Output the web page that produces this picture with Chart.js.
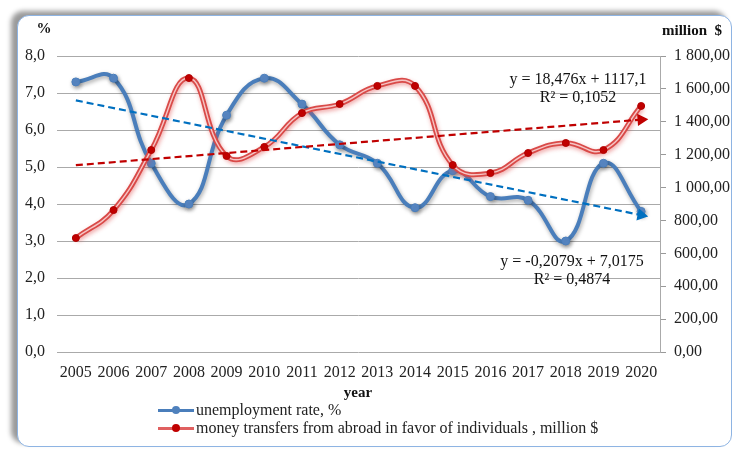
<!DOCTYPE html>
<html>
<head>
<meta charset="utf-8">
<script src="https://cdn.jsdelivr.net/npm/chart.js@4/dist/chart.umd.min.js"></script>
<style>
  body { margin:0; background:#fff; font-family:'Liberation Serif', serif; }
  #frame { position:absolute; left:17px; top:15px; width:713px; height:430px;
    border:1.5px solid #8eb4e3; border-radius:12px; background:#fff;
    box-shadow:-6px -4px 5px rgba(0,0,0,0.4); }
  #chart { position:absolute; left:0; top:0; }
  .legend { position:absolute; left:158px; top:401px; font-size:16px; color:#222; line-height:18px; }
  .legend .row { display:flex; align-items:center; white-space:pre; }
  .legend .sample { position:relative; width:36px; height:10px; margin-right:2px; }
  .legend .sample .ln { position:absolute; left:0; right:0; top:4px; height:3px; }
  .legend .sample .dot { position:absolute; left:14px; top:1px; width:8px; height:8px; border-radius:50%; }
</style>
</head>
<body>
<div id="frame"></div>
<canvas id="chart" width="734" height="450"></canvas>
<div class="legend">
  <div class="row"><div class="sample"><div class="ln" style="background:#4a7ebb"></div><div class="dot" style="background:#4f81bd"></div></div>unemployment rate, %</div>
  <div class="row"><div class="sample"><div class="ln" style="background:#e06060"></div><div class="dot" style="background:#c00000"></div></div>money transfers from abroad in favor of individuals , million $</div>
</div>
<script>
// -- DATA
const years = ['2005','2006','2007','2008','2009','2010','2011','2012','2013','2014','2015','2016','2017','2018','2019','2020'];
const unemployment = [7.3, 7.4, 5.1, 4.0, 6.4, 7.4, 6.7, 5.6, 5.1, 3.9, 4.9, 4.2, 4.1, 3.0, 5.1, 3.8];
const transfers = [693, 863, 1228, 1666, 1192, 1247, 1453, 1508, 1618, 1618, 1137, 1088, 1210, 1271, 1228, 1496];
// trend lines: start and end values
const unempTrend = [6.8, null, null, null, null, null, null, null, null, null, null, null, null, null, null, 3.7];
const transfersTrend = [1136, null, null, null, null, null, null, null, null, null, null, null, null, null, null, 1413];
const unempEq = ['y = -0,2079x + 7,0175', 'R² = 0,4874'];
const transfersEq = ['y = 18,476x + 1117,1', 'R² = 0,1052'];

const FONT = 'Liberation Serif';
const arrowAt = (arr, r) => arr.map((v, i) => (i === arr.length - 1 ? r : 0));

function fmtRight(v) {
  const s = v.toFixed(2).replace('.', ',');
  const [ip, dp] = s.split(',');
  return ip.replace(/\B(?=(\d{3})+(?!\d))/g, ' ') + ',' + dp;
}

// -- SHADOWS for the main lines
const shadowPlugin = {
  id: 'shadow',
  beforeDatasetDraw(chart, args) {
    const ds = chart.data.datasets[args.index];
    if (!ds.shadow) return;
    const ctx = chart.ctx;
    ctx.save();
    ctx.shadowColor = ds.shadow;
    ctx.shadowBlur = 4;
    ctx.shadowOffsetX = 1;
    ctx.shadowOffsetY = 2;
  },
  afterDatasetDraw(chart, args) {
    const ds = chart.data.datasets[args.index];
    if (ds.shadow) chart.ctx.restore();
  }
};

// -- TEXT: axis titles + trend equations
const textPlugin = {
  id: 'texts',
  afterDraw(chart) {
    const ctx = chart.ctx;
    ctx.save();
    ctx.fillStyle = '#111';
    ctx.textBaseline = 'middle';
    ctx.font = 'bold 15px "' + FONT + '"';
    ctx.textAlign = 'center';
    ctx.fillText('%', 44, 29);
    ctx.fillText('million  $', 692, 31);
    ctx.fillText('year', 358, 393);
    ctx.font = '16px "' + FONT + '"';
    ctx.fillText(transfersEq[0], 578, 80);
    ctx.fillText(transfersEq[1], 578, 98);
    ctx.fillText(unempEq[0], 572, 262);
    ctx.fillText(unempEq[1], 572, 280);
    ctx.restore();
  }
};

const ctx = document.getElementById('chart').getContext('2d');
new Chart(ctx, {
  type: 'line',
  data: {
    labels: years,
    datasets: [
      { label: 'unemployment rate, %', data: unemployment, yAxisID: 'y',
        borderColor: '#4a7ebb', borderWidth: 4, tension: 0.45,
        pointRadius: 4, pointBackgroundColor: '#5b8ccb', pointBorderColor: '#4a7ebb', pointBorderWidth: 1,
        shadow: 'rgba(0,0,0,0.35)', order: 6 },
      { label: 'money transfers', data: transfers, yAxisID: 'y1',
        borderColor: '#d94a48', borderWidth: 5, tension: 0.45, pointRadius: 0,
        shadow: 'rgba(220,60,60,0.45)', order: 5 },
      { label: 'inner', data: transfers, yAxisID: 'y1',
        borderColor: '#f6c4c4', borderWidth: 1.4, tension: 0.45, pointRadius: 0, order: 4 },
      { label: 'points', data: transfers, yAxisID: 'y1', showLine: false,
        pointRadius: 3.5, pointBackgroundColor: '#c00000', pointBorderColor: '#b00000', order: 3 },
      { label: 'trend unemployment', data: unempTrend, yAxisID: 'y', spanGaps: true,
        borderColor: '#0070c0', borderWidth: 2.2, borderDash: [7, 4], tension: 0,
        pointStyle: 'triangle', pointRadius: arrowAt(unempTrend, 5), pointRotation: 101,
        pointBackgroundColor: '#0070c0', pointBorderColor: '#0070c0', order: 2 },
      { label: 'trend transfers', data: transfersTrend, yAxisID: 'y1', spanGaps: true,
        borderColor: '#c00000', borderWidth: 2.2, borderDash: [7, 4], tension: 0,
        pointStyle: 'triangle', pointRadius: arrowAt(transfersTrend, 5), pointRotation: 86,
        pointBackgroundColor: '#c00000', pointBorderColor: '#c00000', order: 1 }
    ]
  },
  options: {
    responsive: false,
    animation: false,
    layout: { padding: { left: 20, top: 56, right: 0, bottom: 0 } },
    plugins: { legend: { display: false }, tooltip: { enabled: false } },
    scales: {
      x: {
        offset: true,
        grid: { display: false }, border: { display: false },
        ticks: { font: { family: FONT, size: 16 }, color: '#222', padding: 3, maxRotation: 0, autoSkip: false },
        afterFit(s) { s.height = 98; }
      },
      y: {
        position: 'left', min: 0, max: 8,
        grid: { color: '#aaaaaa', drawTicks: false }, border: { display: false },
        ticks: { stepSize: 1, font: { family: FONT, size: 16 }, color: '#222', padding: 12,
          callback: v => v.toFixed(1).replace('.', ',') },
        afterFit(s) { s.width = 37; }
      },
      y1: {
        position: 'right', min: 0, max: 1800,
        grid: { drawOnChartArea: false, color: '#999', tickLength: 6 },
        border: { display: true, color: '#aaaaaa' },
        ticks: { stepSize: 200, font: { family: FONT, size: 16 }, color: '#222', padding: 8,
          callback: v => fmtRight(v) },
        afterFit(s) { s.width = 74; }
      }
    }
  },
  plugins: [shadowPlugin, textPlugin]
});
</script>
</body>
</html>
